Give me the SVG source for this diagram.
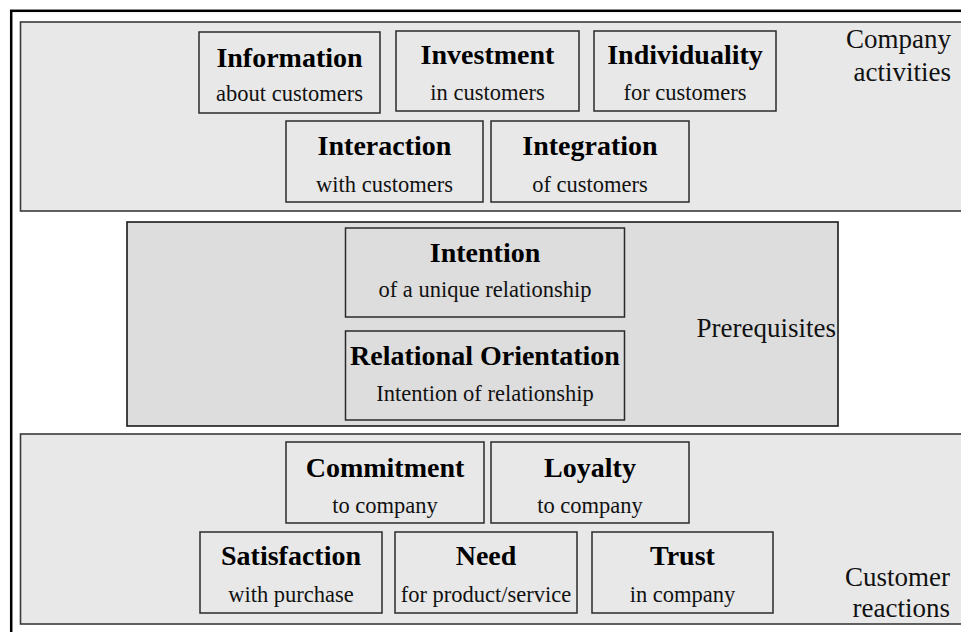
<svg xmlns="http://www.w3.org/2000/svg" width="961" height="632" viewBox="0 0 961 632">
<style>
.band{fill:#e8e8e8;stroke:#3a3a3a;stroke-width:1.6}
.pre{fill:#dddddd;stroke:#1a1a1a;stroke-width:1.6}
.box{fill:none;stroke:#2a2a2a;stroke-width:1.5}
.t{font-family:"Liberation Serif","Times New Roman",serif;font-weight:bold;font-size:28px;fill:#000;text-anchor:middle}
.s{font-family:"Liberation Serif","Times New Roman",serif;font-size:22.5px;fill:#111;text-anchor:middle}
.l{font-family:"Liberation Serif","Times New Roman",serif;font-size:27px;fill:#111;text-anchor:end}
</style>
<rect width="961" height="632" fill="#fff"/>
<rect x="11.2" y="10.8" width="970" height="640" fill="none" stroke="#000" stroke-width="2.5"/>
<g id="company-activities">
<rect class="band" x="20.5" y="22" width="960" height="189"/>
<text class="l" x="951" y="47.5">Company</text>
<text class="l" x="951" y="81">activities</text>
</g>
<g id="prerequisites">
<rect class="pre" x="127" y="222" width="711" height="204"/>
<text class="l" x="836" y="337">Prerequisites</text>
</g>
<g id="customer-reactions">
<rect class="band" x="20.5" y="434" width="960" height="190"/>
<text class="l" x="950" y="585.5">Customer</text>
<text class="l" x="950" y="616.5">reactions</text>
</g>
<g id="information">
<rect class="box" x="199" y="32" width="181" height="81"/>
<text class="t" x="289.5" y="67">Information</text>
<text class="s" x="289.5" y="101">about customers</text>
</g>
<g id="investment">
<rect class="box" x="396" y="31" width="183" height="80"/>
<text class="t" x="487.5" y="63.5">Investment</text>
<text class="s" x="487.5" y="99.5">in customers</text>
</g>
<g id="individuality">
<rect class="box" x="594" y="31" width="182" height="80"/>
<text class="t" x="685" y="63.5">Individuality</text>
<text class="s" x="685" y="100">for customers</text>
</g>
<g id="interaction">
<rect class="box" x="286" y="121" width="197" height="81"/>
<text class="t" x="384.5" y="155">Interaction</text>
<text class="s" x="384.5" y="191.5">with customers</text>
</g>
<g id="integration">
<rect class="box" x="491" y="121" width="198" height="81"/>
<text class="t" x="590" y="155">Integration</text>
<text class="s" x="590" y="191.5">of customers</text>
</g>
<g id="intention">
<rect class="box" x="345.5" y="228" width="279" height="89"/>
<text class="t" x="485" y="262">Intention</text>
<text class="s" x="485" y="297">of a unique relationship</text>
</g>
<g id="relational-orientation">
<rect class="box" x="345.5" y="331" width="279" height="89"/>
<text class="t" x="485" y="364.5">Relational Orientation</text>
<text class="s" x="485" y="400.5">Intention of relationship</text>
</g>
<g id="commitment">
<rect class="box" x="286" y="442" width="198" height="81"/>
<text class="t" x="385" y="476.5">Commitment</text>
<text class="s" x="385" y="512.5">to company</text>
</g>
<g id="loyalty">
<rect class="box" x="491" y="442" width="198" height="81"/>
<text class="t" x="590" y="476.5">Loyalty</text>
<text class="s" x="590" y="512.5">to company</text>
</g>
<g id="satisfaction">
<rect class="box" x="200" y="532" width="182" height="81"/>
<text class="t" x="291" y="565">Satisfaction</text>
<text class="s" x="291" y="601.5">with purchase</text>
</g>
<g id="need">
<rect class="box" x="395" y="532" width="182" height="81"/>
<text class="t" x="486" y="565">Need</text>
<text class="s" x="486" y="601.5">for product/service</text>
</g>
<g id="trust">
<rect class="box" x="592" y="532" width="181" height="81"/>
<text class="t" x="682.5" y="565">Trust</text>
<text class="s" x="682.5" y="601.5">in company</text>
</g>
<g id="connectors"></g>
</svg>
